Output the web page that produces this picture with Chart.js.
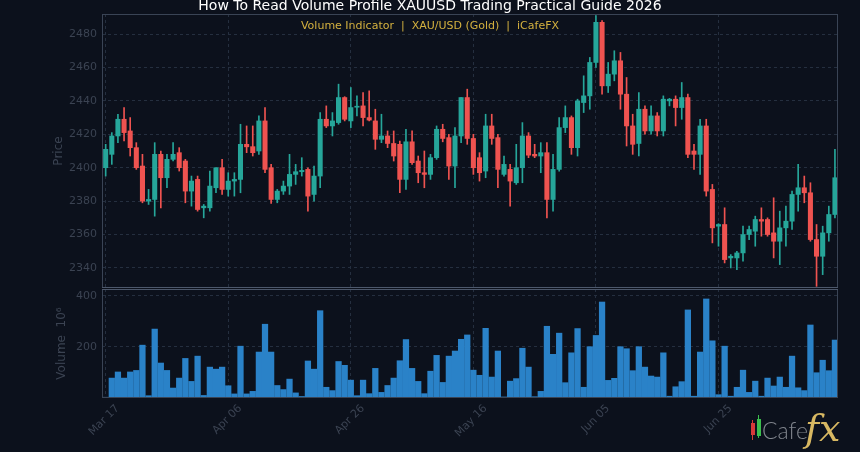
<!DOCTYPE html>
<html>
<head>
<meta charset="utf-8">
<script src="https://cdn.jsdelivr.net/npm/chart.js@4.4.1/dist/chart.umd.min.js"></script>
<style>
html,body{margin:0;padding:0;background:#0c111c;width:860px;height:452px;overflow:hidden;font-family:'DejaVu Sans',sans-serif;}
#wrap{position:relative;width:860px;height:452px;}
canvas{position:absolute;left:0;}
#cPrice{top:0;}
#cVol{top:288px;}
#title{position:absolute;left:0;width:860px;top:-3px;text-align:center;color:#ffffff;font-size:14px;line-height:16px;white-space:pre;}
#subtitle{position:absolute;left:0;width:860px;top:19px;text-align:center;color:#d4b13f;font-size:11px;line-height:13px;white-space:pre;}
#logo{position:absolute;left:750px;top:410px;width:110px;height:42px;}
#logo .bar{position:absolute;}
#logo .cafe{position:absolute;left:12px;top:6px;font-family:'Lato','Open Sans',sans-serif;font-weight:300;font-size:23px;line-height:28px;color:#80858d;}
#logo .fx{position:absolute;left:55px;top:-3px;font-family:'DejaVu Serif','Liberation Serif',serif;font-style:italic;font-size:38px;line-height:42px;color:#d8b862;}
</style>
</head>
<body>
<div id="wrap">
<canvas id="cPrice" width="860" height="289"></canvas>
<canvas id="cVol" width="860" height="164"></canvas>
<div id="title">How To Read Volume Profile XAUUSD Trading Practical Guide 2026</div>
<div id="subtitle">Volume Indicator  |  XAU/USD (Gold)  |  iCafeFX</div>
<div id="logo">
  <div class="bar" style="left:2px;top:10px;width:1px;height:20px;background:#d83a3a"></div>
  <div class="bar" style="left:1px;top:13px;width:4px;height:12px;background:#d83a3a"></div>
  <div class="bar" style="left:8px;top:5px;width:1px;height:23px;background:#3cbf4e"></div>
  <div class="bar" style="left:7px;top:9px;width:4px;height:17px;background:#3cbf4e"></div>
  <span class="cafe">Cafe</span><span class="fx">fx</span>
</div>
</div>
<script>
// ---- data ----
const tickPositions = [0, 20, 40, 60, 80, 100];
const tickLabels = ['Mar 17', 'Apr 06', 'Apr 26', 'May 16', 'Jun 05', 'Jun 25'];
const priceTicks = [2340, 2360, 2380, 2400, 2420, 2440, 2460, 2480];
const volumeTicks = [200, 400];

const opens = [2400,2408,2419,2429,2422,2412,2401,2380,2381,2408,
2394,2405,2409,2404,2386,2393,2376,2376,2388,2400,
2387,2392,2393,2414,2412.6,2410,2428,2400,2381,2386,
2389,2396,2397.6,2399,2384,2395,2429,2425,2427,2442,
2428,2436.2,2437,2430,2428,2417,2419,2414.5,2414,2393,
2415.5,2404,2397,2396,2406,2423,2418,2401,2419,2442,
2417.5,2406,2398,2425,2418,2396,2399,2391,2400,2419,
2408,2407,2409,2381,2399,2424,2430,2412,2439,2443,
2463,2487,2449,2456,2464,2444,2425,2414.5,2435,2422,
2431,2422,2440,2441,2436,2442,2410,2408,2425,2387,
2365,2366,2346,2346,2349,2360,2362,2369,2369,2361,
2356,2364,2368,2384,2388,2385,2357,2347,2361,2372];
const highs = [2414,2421,2432,2436,2430,2415,2408,2387,2415,2410,
2408,2415,2412,2405,2395,2395,2378,2398,2400,2405,
2397,2397,2426,2425,2425,2431,2436,2402,2387,2392,
2408,2402,2406,2400,2401,2433,2437,2433,2450,2442.5,
2448,2443,2445,2446,2435,2432,2422,2422,2416,2423,
2422,2407,2410,2408,2425,2426,2420,2424,2442,2447,
2420,2409,2432,2432,2420,2407,2402,2414,2427,2421,
2414,2415,2415,2408,2430,2437,2431,2441,2455,2466,
2491,2488,2463,2470,2469,2454,2432,2445,2437,2437,
2433,2443,2441.5,2443,2451,2444,2414,2429,2429,2390,
2366.5,2376,2348,2350,2365,2365,2371,2376,2370,2382,
2374,2377,2386,2402,2395,2391,2366,2365,2377,2411];
const lows = [2395,2402,2415,2416,2407,2399,2379,2378,2371,2376,
2388,2404,2398,2379,2377,2374,2370,2374,2385,2384,
2383,2383,2385,2409,2407,2408,2397,2378.6,2379,2384,
2384,2390,2395,2374,2380,2388,2424,2419,2426,2428,
2424,2431,2425,2428,2411,2415,2412,2404,2385,2387,
2402,2391,2388,2393,2405,2415.5,2393,2388,2415,2414,
2396,2392,2394,2414,2388,2395,2377,2390,2391,2406,
2406,2397,2370,2374,2398,2421,2408,2407,2433,2435,
2460,2444,2445,2452,2435,2413,2408,2407,2420,2420,
2419,2419,2437,2425,2429,2406,2399,2396,2383,2355,
2353,2343,2340,2339,2344,2357,2353,2359,2359,2346,
2342,2353,2363,2374,2379,2356,2329,2336,2356,2370];
const closes = [2411,2419,2429,2421,2412,2400,2380,2381,2408,2394,
2405,2408,2400,2386,2392,2375,2377,2389,2400,2387,
2392,2393,2414,2412.5,2409,2428,2399,2381,2386,2389,
2396,2397.6,2398.4,2383,2395,2429,2425,2428,2442,2429,
2436,2436.8,2430,2428.5,2417,2419,2414.5,2407,2393,2415.5,
2403,2397,2396,2406,2423,2417.5,2401,2419,2442,2417.5,
2400,2397,2425,2417.5,2399,2402,2392,2400,2419,2407.5,
2407,2409,2381,2399,2424,2430,2412,2440,2443,2463,
2487,2449,2456,2464,2444,2425,2414,2435,2422,2431,
2422,2441,2441,2436,2442,2408,2408,2425,2386,2364,
2366,2345,2347,2349,2360,2363,2369,2368,2360,2356,
2364,2368,2384,2388,2385,2357,2347,2361,2372,2394];
const volumes = [3,78,102,78,102,108,207,9,270,137,
108,39,78,155,65,164,10,121,113,121,
48,16,203,16,26,180,289,180,49,33,
74,20,6,145,113,342,42,29,143,128,
70,9,70,17,116,22,49,78,146,229,
116,65,17,105,167,61,164,184,230,247,
109,89,273,82,184,4,66,76,195,121,
5,26,281,171,254,60,177,272,42,201,
245,376,69,77,201,193,107,201,121,86,
82,177,7,44,64,345,7,180,388,224,
13,203,7,42,109,22,66,7,78,47,
82,42,164,40,29,286,99,148,107,227];

// ---- styling ----
const UP = '#26a69a', DOWN = '#ef5350', VOL = '#2a82c8';
const GRID = '#252f3f', FRAME = '#3a4455', TXT = '#3b4352';
Chart.defaults.font.family = "'DejaVu Sans', sans-serif";
Chart.defaults.color = TXT;

const idx = opens.map((_, i) => i);
const colors = idx.map(i => closes[i] >= opens[i] ? UP : DOWN);
const wickData = idx.map(i => ({x: i, y: [lows[i], highs[i]]}));
const bodyData = idx.map(i => ({x: i, y: [Math.min(opens[i], closes[i]), Math.max(opens[i], closes[i])]}));
const volData = idx.map(i => ({x: i, y: volumes[i]}));

const frame = {
  id: 'frame',
  afterDraw(chart, args, opts) {
    const {ctx, chartArea: a} = chart;
    ctx.save();
    ctx.strokeStyle = FRAME;
    ctx.lineWidth = 1;
    ctx.strokeRect(a.left + 0.5, a.top + 0.5, a.right - a.left - 1, a.bottom - a.top - 1);
    if (opts && opts.sep) {
      ctx.strokeStyle = '#4d586b';
      ctx.beginPath();
      const yy = opts.sep === 'bottom' ? a.bottom - 0.5 : a.top + 0.5;
      ctx.moveTo(a.left, yy);
      ctx.lineTo(a.right, yy);
      ctx.stroke();
    }
    ctx.restore();
  }
};

function noPad(s) { s.paddingTop = 0; s.paddingBottom = 0; s.paddingLeft = 0; s.paddingRight = 0; }

function xScale(showTicks) {
  return {
    type: 'linear', min: -0.6, max: 119.5, offset: false,
    afterBuildTicks: s => { s.ticks = tickPositions.map(v => ({value: v})); },
    afterFit: s => { s.height = showTicks ? 54 : 0; noPad(s); },
    grid: {color: GRID, drawTicks: false, offset: false},
    border: {display: false, dash: [3, 3]},
    ticks: {
      display: showTicks, autoSkip: false, maxRotation: 45, minRotation: 45,
      color: TXT, font: {size: 11}, padding: 4, labelOffset: 12,
      callback: v => tickLabels[tickPositions.indexOf(v)]
    }
  };
}

new Chart(document.getElementById('cPrice'), {
  type: 'bar',
  data: {
    datasets: [
      {label: 'Body', data: bodyData, backgroundColor: colors, barThickness: 4.4, minBarLength: 1, grouped: false, order: 0},
      {label: 'Wick', data: wickData, backgroundColor: colors, barThickness: 1, grouped: false, order: 1}
    ]
  },
  options: {
    responsive: false, animation: false,
    layout: {padding: {left: 0, right: 22, top: 14, bottom: 1}},
    plugins: {legend: {display: false}, tooltip: {enabled: false}, frame: {sep: 'bottom'}},
    scales: {
      x: xScale(false),
      y: {
        min: 2328, max: 2492,
        afterBuildTicks: s => { s.ticks = priceTicks.map(v => ({value: v})); },
        afterFit: s => { s.width = 102; noPad(s); },
        grid: {color: GRID, drawTicks: false},
        border: {display: false, dash: [3, 3]},
        ticks: {color: TXT, font: {size: 11}, padding: 5, callback: v => String(v)},
        title: {display: true, text: 'Price', color: TXT, font: {size: 12}, padding: {top: 52, bottom: 0}}
      }
    }
  },
  plugins: [frame]
});

new Chart(document.getElementById('cVol'), {
  type: 'bar',
  data: {
    datasets: [
      {label: 'Volume', data: volData, backgroundColor: VOL, barThickness: 5.6, grouped: false}
    ]
  },
  options: {
    responsive: false, animation: false,
    layout: {padding: {left: 0, right: 22, top: 1, bottom: 0}},
    plugins: {legend: {display: false}, tooltip: {enabled: false}, frame: {sep: 'top'}},
    scales: {
      x: xScale(true),
      y: {
        min: 0, max: 427,
        afterBuildTicks: s => { s.ticks = volumeTicks.map(v => ({value: v})); },
        afterFit: s => { s.width = 102; noPad(s); },
        grid: {color: GRID, drawTicks: false},
        border: {display: false, dash: [3, 3]},
        ticks: {color: TXT, font: {size: 11}, padding: 5, callback: v => String(v)},
        title: {display: true, text: 'Volume  10\u2076', color: TXT, font: {size: 12}, padding: {top: 55, bottom: 0}}
      }
    }
  },
  plugins: [frame]
});
</script>
</body>
</html>
